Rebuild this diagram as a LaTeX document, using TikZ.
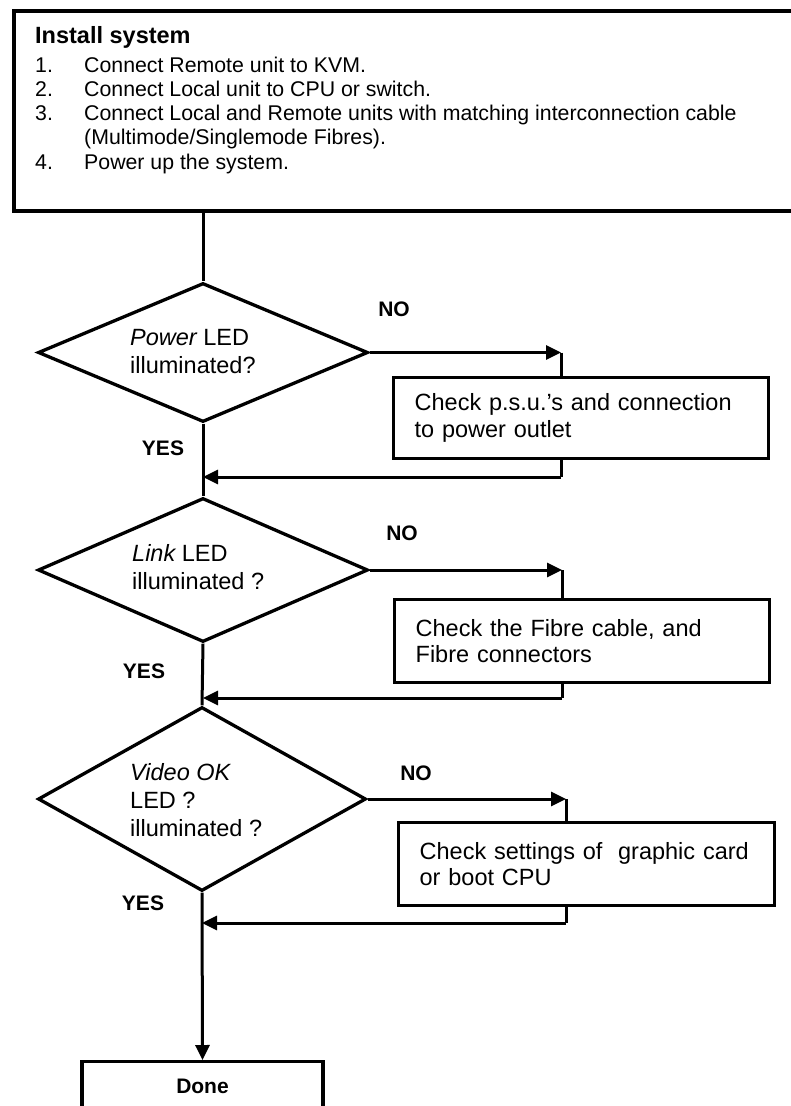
\documentclass[tikz,border=0pt]{standalone}
\usepackage{fontspec}
\setmainfont{Liberation Sans}
\usetikzlibrary{shapes.geometric,arrows.meta}
\begin{document}
\begin{tikzpicture}[x=1pt,y=-1pt,
  conn/.style={line width=3pt},
  arr/.style={conn,-{Triangle[length=15pt,width=14pt]}},
  dec/.style={diamond,draw,line width=3.3pt,inner sep=0pt},
  chk/.style={draw,line width=3.3pt,anchor=north west,inner xsep=21pt,inner ysep=0pt,align=left,font=\fontsize{23.5}{26.5}\selectfont},
  dtxt/.style={anchor=west,align=left,inner sep=0pt,font=\fontsize{23.5}{28}\selectfont},
  lbl/.style={font=\fontsize{21}{24}\bfseries\selectfont,inner sep=0pt},
  itm/.style={anchor=base west,inner sep=0pt,font=\fontsize{21.3}{24}\selectfont}]
\useasboundingbox (0,0) rectangle (791,1106);
\clip (0,0) rectangle (791,1106);

% install box
\node[draw,line width=3.5pt,anchor=north west,minimum width=800pt,minimum height=200pt,inner sep=0pt] (install) at (12,9) {};
\node[anchor=base west,inner sep=0pt,font=\fontsize{23.5}{26}\bfseries\selectfont] (title) at (35,43) {Install system};
\node[itm] (n1) at (35,72) {1.};
\node[itm] (t1) at (84,72) {Connect Remote unit to KVM.};
\node[itm] (n2) at (35,96) {2.};
\node[itm] (t2) at (84,96) {Connect Local unit to CPU or switch.};
\node[itm] (n3) at (35,120) {3.};
\node[itm] (t3) at (84,120) {Connect Local and Remote units with matching interconnection cable};
\node[itm] (t3b) at (84,144) {(Multimode/Singlemode Fibres).};
\node[itm] (n4) at (35,169) {4.};
\node[itm] (t4) at (84,169) {Power up the system.};

% decisions
\node[dec,minimum width=330pt,minimum height=139pt] (d1) at (203,352.5) {};
\node[dtxt] (d1t) at (130,352) {\itshape Power\upshape\ LED\\illuminated?};
\node[dec,minimum width=330pt,minimum height=144pt] (d2) at (203,570) {};
\node[dtxt] (d2t) at (132,567) {\itshape Link\upshape\ LED\\illuminated ?};
\node[dec,minimum width=328pt,minimum height=184pt] (d3) at (202,799) {};
\node[dtxt] (d3t) at (130,800) {\itshape Video OK\upshape\\LED ?\\illuminated ?};

% check boxes
\node[chk,text width=333pt,minimum height=81pt] (c1) at (392,376) {Check p.s.u.'s and connection\\to power outlet};
\node[chk,text width=333pt,minimum height=83pt] (c2) at (393,598) {Check the Fibre cable, and\\Fibre connectors};
\node[chk,text width=334pt,minimum height=83pt] (c3) at (397,821) {Check settings of\ \ graphic card\\or boot CPU};

% done
\node[draw,line width=3.3pt,anchor=north,minimum width=241pt,minimum height=50pt,inner sep=0pt,font=\fontsize{21}{24}\bfseries\selectfont] (done) at (202.5,1060) {Done};

% labels
\node[lbl] (no1) at (394,309) {NO};
\node[lbl] (no2) at (402,533) {NO};
\node[lbl] (no3) at (416,773) {NO};
\node[lbl] (yes1) at (163,448) {YES};
\node[lbl] (yes2) at (144,671) {YES};
\node[lbl] (yes3) at (143,903) {YES};

% corner coordinates
\coordinate (k1) at (561,352.5);
\coordinate (r1) at (561,477);
\coordinate (k2) at (562,570);
\coordinate (r2) at (562,698);
\coordinate (k3) at (566,799);
\coordinate (r3) at (566,923);

% connectors
\draw[conn] (install.south -| d1.north) -- (d1.north);
\draw[arr] (d1.east) -- (k1);
\draw[conn] (k1) -- (k1 |- c1.north);
\draw[conn] (c1.south -| r1) -- (r1);
\draw[arr] (r1) -- (r1 -| d1.south);
\draw[conn] (d1.south) -- (d2.north);

\draw[arr] (d2.east) -- (k2);
\draw[conn] (k2) -- (k2 |- c2.north);
\draw[conn] (c2.south -| r2) -- (r2);
\draw[arr] (r2) -- (r2 -| d2.south);
\draw[conn] (d2.south) -- (d3.north);

\draw[arr] (d3.east) -- (k3);
\draw[conn] (k3) -- (k3 |- c3.north);
\draw[conn] (c3.south -| r3) -- (r3);
\draw[arr] (r3) -- (r3 -| d3.south);
\draw[arr] (d3.south) -- (done.north);
\end{tikzpicture}
\end{document}
